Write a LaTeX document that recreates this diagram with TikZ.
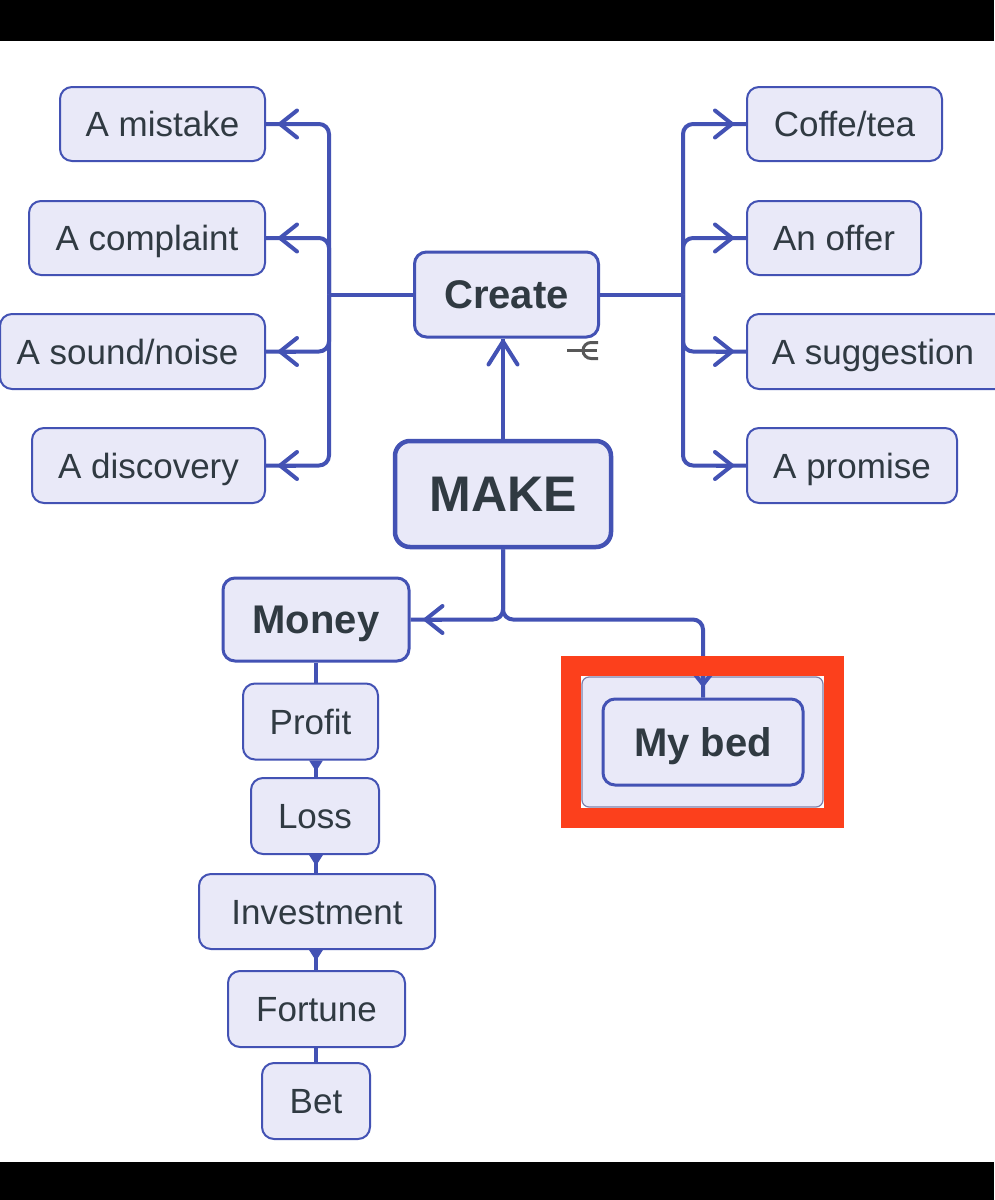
\documentclass[tikz,border=0pt]{standalone}
\usepackage{fontspec}
\setmainfont{Liberation Sans}
\usetikzlibrary{arrows.meta}
\definecolor{linec}{RGB}{67,82,180}
\definecolor{boxfill}{RGB}{233,233,248}
\definecolor{txt}{RGB}{48,58,66}
\definecolor{redframe}{RGB}{252,64,28}
\definecolor{clborder}{RGB}{125,128,170}
\definecolor{markgray}{RGB}{88,88,88}
\newcommand\regf{\fontsize{35}{40}\selectfont}
\newcommand\bldf{\fontsize{40}{46}\selectfont\bfseries}
\newcommand\makef{\fontsize{50}{58}\selectfont\bfseries}
\tikzset{
  box/.style={draw=linec, fill=boxfill, rounded corners=12pt, line width=2pt, text=txt, font=\regf, inner sep=0pt, text height=32pt, text depth=7pt},
  bigbox/.style={box, line width=3pt, font=\bldf, text height=36pt, text depth=7.4pt},
  conn/.style={draw=linec, line width=4pt, rounded corners=10pt},
  barb/.style={draw=linec, line width=4pt, -{Straight Barb[length=17pt,width=27pt,round]}},
  longbarb/.style={draw=linec, line width=4pt, -{Straight Barb[length=23pt,width=29pt,round]}},
  chainline/.style={draw=linec, line width=4pt},
  chaintri/.style={chainline, {Triangle[reversed,length=11pt,width=13pt]}-},
}
\begin{document}
\begin{tikzpicture}[x=1pt,y=-1pt]
\useasboundingbox (0,0) rectangle (994,1200);
\fill[white] (0,0) rectangle (994,1200);
\fill[black] (0,0) rectangle (994,41);
\fill[black] (0,1162) rectangle (994,1200);

% left nodes
\node[box, minimum width=205pt, minimum height=74pt] (mistake) at (162.5,124) {A mistake};
\node[box, minimum width=236pt, minimum height=74pt] (complaint) at (147,238) {A complaint};
\node[box, minimum width=265pt, minimum height=75pt] (sound) at (132.5,351.5) {A sound/noise\hspace*{10pt}};
\node[box, minimum width=233pt, minimum height=75pt] (discovery) at (148.5,465.5) {A discovery};
% right nodes
\node[box, minimum width=195pt, minimum height=74pt] (coffe) at (844.5,124) {Coffe/tea};
\node[box, minimum width=174pt, minimum height=74pt] (offer) at (834,238) {An offer};
\node[box, minimum width=262pt, minimum height=75pt] (suggestion) at (878,351.5) {\hspace*{-10pt}A suggestion};
\node[box, minimum width=210pt, minimum height=75pt] (promise) at (852,465.5) {A promise};
% centre
\node[bigbox, minimum width=184pt, minimum height=85pt] (create) at (506.5,294.5) {Create};
\node[box, line width=4.5pt, rounded corners=15pt, font=\makef, text height=45pt, text depth=9.2pt, minimum width=216pt, minimum height=106pt] (make) at (503,494) {MAKE};
% money chain
\node[bigbox, minimum width=186pt, minimum height=83pt] (money) at (316,619.5) {Money};
\node[box, minimum width=135pt, minimum height=76pt] (profit) at (310.5,721.5) {Profit};
\node[box, minimum width=128pt, minimum height=76pt] (loss) at (315,816) {Loss};
\node[box, minimum width=236pt, minimum height=75pt] (investment) at (317,911.5) {Investment};
\node[box, minimum width=177pt, minimum height=76pt] (fortune) at (316.5,1009) {Fortune};
\node[box, minimum width=108pt, minimum height=76pt] (bet) at (316,1101) {Bet};
% my bed group
\node[draw=clborder, fill=boxfill, line width=1.2pt, rounded corners=7pt, minimum width=241pt, minimum height=130pt] (group) at (702.5,742) {};
\node[bigbox, minimum width=200pt, minimum height=86pt] (mybed) at (703,742) {My bed};

% left branches
\coordinate (lj) at (329,294.5);
\draw[conn] (create.west) -- (lj);
\draw[conn] (lj) |- (mistake.east);
\draw[conn] (lj) |- (complaint.east);
\draw[conn] (lj) |- (sound.east);
\draw[conn] (lj) |- (discovery.east);
\foreach \n in {mistake,complaint,sound,discovery}
  \draw[barb] ([xshift=30pt]\n.east) -- ([xshift=12pt]\n.east);
% right branches
\coordinate (rj) at (683,294.5);
\draw[conn] (create.east) -- (rj);
\draw[conn] (rj) |- (coffe.west);
\draw[conn] (rj) |- (offer.west);
\draw[conn] (rj) |- (suggestion.west);
\draw[conn] (rj) |- (promise.west);
\foreach \n in {coffe,offer,suggestion,promise}
  \draw[barb] ([xshift=-30pt]\n.west) -- ([xshift=-12pt]\n.west);
% make -> create
\draw[conn] (make.north) -- (make.north |- create.south);
\draw[longbarb] ([yshift=-32pt]make.north |- create.south) -- ([yshift=-1pt]make.north |- create.south);
% make -> money
\draw[conn] (make.south) |- (money.east);
\draw[barb] ([xshift=31pt]money.east) -- ([xshift=13pt]money.east);
% make -> my bed
\draw[conn] (make.south) |- (money.east -| mybed.north) -- (mybed.north);
\draw[barb] ([yshift=30pt]mybed.north) -- ([yshift=11pt]mybed.north);
% red frame
\draw[redframe, line width=20pt] (group.north west) ++(-10,-10) rectangle ([xshift=10pt,yshift=-10pt]group.south east);

% money chain connectors
\draw[chainline] (money.south) -- (money.south |- profit.north);
\draw[chaintri] (profit.south -| money.south) -- (money.south |- loss.north);
\draw[chaintri] (loss.south -| money.south) -- (money.south |- investment.north);
\draw[chaintri] (investment.south -| money.south) -- (money.south |- fortune.north);
\draw[chainline] (fortune.south -| money.south) -- (money.south |- bet.north);

% small grey mark near Create
\draw[markgray, line width=3pt] (567,350.5) -- (597,350.5);
\draw[markgray, line width=3pt] (598,342.5) -- (591,342.5) arc[start angle=270, end angle=90, radius=8] -- (598,358.5);
\end{tikzpicture}
\end{document}
